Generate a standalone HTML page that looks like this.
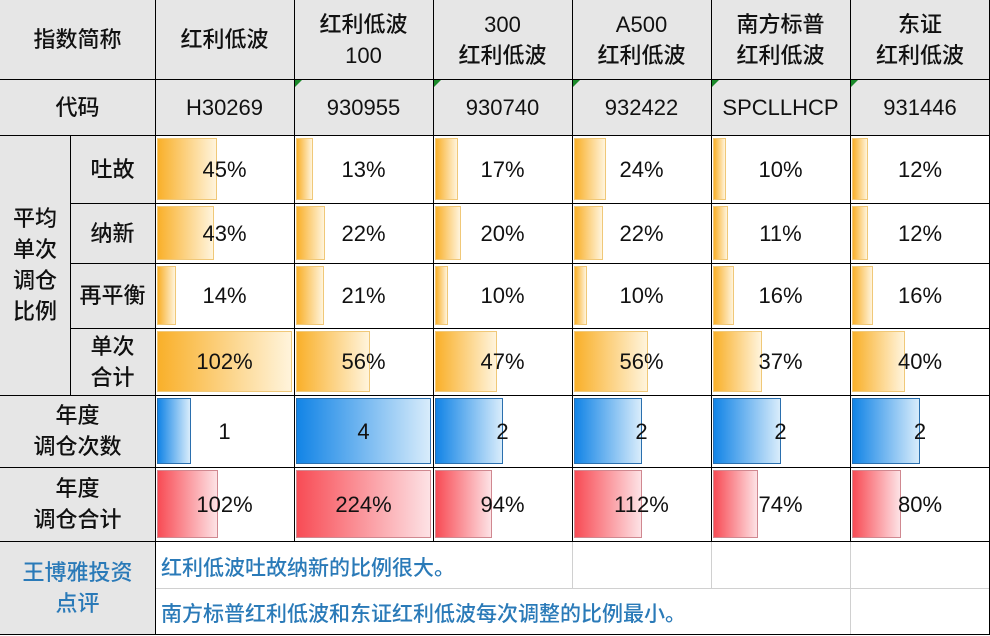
<!DOCTYPE html>
<html><head><meta charset="utf-8">
<style>
body{margin:0;width:990px;height:635px;background:#fff;font-family:"Liberation Sans","Noto Sans CJK SC",sans-serif;overflow:hidden}
#t{position:relative;width:990px;height:635px}
.c{position:absolute;box-sizing:border-box;display:flex;align-items:center;justify-content:center;text-align:center;color:#111;font-size:22px;line-height:31px;font-weight:500}
.h{background:#e6e6e6}
.bar{position:absolute;box-sizing:border-box}
.v{position:relative;z-index:2}
.ln{position:absolute;background:#000}
.lg{position:absolute;background:#d0d0d0}
.tri{position:absolute;width:0;height:0;border-top:7px solid #1a8a2a;border-right:7px solid transparent}
.cm{position:absolute;color:#2a7ab8;font-size:21px;font-weight:500;display:flex;align-items:center}
</style></head><body>
<div id="t"></div>
<script>
const names=["红利低波","红利低波<br>100","300<br>红利低波","A500<br>红利低波","南方标普<br>红利低波","东证<br>红利低波"];
const codes=["H30269","930955","930740","932422","SPCLLHCP","931446"];
const outVals=[45,13,17,24,10,12];
const inVals=[43,22,20,22,11,12];
const rebVals=[14,21,10,10,16,16];
const sumVals=[102,56,47,56,37,40];
const countVals=[1,4,2,2,2,2];
const annualVals=[102,224,94,112,74,80];
const xs=[155,294,433,572,711,850,990];
const ys=[0,79,135,203,263,328,395,467,541,588,635];
const t=document.getElementById('t');
function cell(x,y,w,h,html,cls,name){const d=document.createElement('div');d.className='c '+(cls||'');d.style.left=x+'px';d.style.top=y+'px';d.style.width=w+'px';d.style.height=h+'px';d.innerHTML=html;


t.appendChild(d);return d;}
cell(0,0,155,79,'指数简称','h','header-index-name');
cell(0,79,155,56,'代码','h','header-code');
cell(0,135,70,260,'平均<br>单次<br>调仓<br>比例','h','header-avg-single');
const sub=['吐故','纳新','再平衡','单次<br>合计'];
for(let i=0;i<4;i++)cell(70,ys[i+2],85,ys[i+3]-ys[i+2],sub[i],'h','header-sub-'+i);
cell(0,395,155,72,'年度<br>调仓次数','h','header-annual-count');
cell(0,467,155,74,'年度<br>调仓合计','h','header-annual-total');
const cmh=cell(0,541,155,94,'王博雅投资<br>点评','h','header-comment');cmh.style.color='#2a7ab8';
for(let j=0;j<6;j++){
 cell(xs[j],0,xs[j+1]-xs[j],79,names[j],'h','index-name-'+j);
 cell(xs[j],79,xs[j+1]-xs[j],56,codes[j],'h','index-code-'+j);
 if(j>=1){const tr=document.createElement('div');tr.className='tri';tr.style.left=(xs[j]+1)+'px';tr.style.top='80px';
 
 
 t.appendChild(tr);}
}
const orange={g:'linear-gradient(90deg,#f9b02a,#fff4dc)',b:'#f0c878'};
const blue={g:'linear-gradient(90deg,#1284e6,#d8ecfb)',b:'#2a6fae'};
const red={g:'linear-gradient(90deg,#f84c55,#fde2e5)',b:'#d08890'};
function barRow(vals,max,ri,col,fmt,name){
 const y0=ys[ri],h=ys[ri+1]-ys[ri];
 for(let j=0;j<6;j++){
  const x0=xs[j],w=xs[j+1]-xs[j];
  const d=cell(x0,y0,w,h,'<span class="v">'+fmt(vals[j])+'</span>','',name+'-'+j);
  const b=document.createElement('div');b.className='bar';
  
  
  b.style.left='2px';b.style.top='3px';b.style.height=(h-6)+'px';
  b.style.width=(vals[j]/max*(w-4))+'px';b.style.background=col.g;b.style.border='1px solid '+col.b;
  d.appendChild(b);
 }
}
const pct=v=>v+'%';
barRow(outVals,102,2,orange,pct,'out-ratio');
barRow(inVals,102,3,orange,pct,'in-ratio');
barRow(rebVals,102,4,orange,pct,'rebalance-ratio');
barRow(sumVals,102,5,orange,pct,'single-total');
barRow(countVals,4,6,blue,v=>v,'annual-count');
barRow(annualVals,224,7,red,pct,'annual-total');
function lg(x,y,w,h){const l=document.createElement('div');l.className='lg';l.style.left=x+'px';l.style.top=y+'px';l.style.width=w+'px';l.style.height=h+'px';


t.appendChild(l);}
lg(155,588,835,1);lg(572,541,1,47);lg(711,541,1,47);lg(850,541,1,94);
function cm(y,txt,n){const d=document.createElement('div');d.className='cm';d.style.left='161px';d.style.top=y+'px';d.style.height='47px';d.textContent=txt;


t.appendChild(d);}
cm(543,'红利低波吐故纳新的比例很大。','comment-1');
cm(589,'南方标普红利低波和东证红利低波每次调整的比例最小。','comment-2');
function ln(x,y,w,h){const l=document.createElement('div');l.className='ln';l.style.left=x+'px';l.style.top=y+'px';l.style.width=w+'px';l.style.height=h+'px';


t.appendChild(l);}
[79,135,395,467,541].forEach(y=>ln(0,y,990,1));
[203,263,328].forEach(y=>ln(70,y,920,1));
ln(0,634,990,1);
ln(155,0,1,635);ln(70,135,1,260);ln(989,0,1,635);
for(let j=1;j<6;j++)ln(xs[j],0,1,541);
</script>
</body></html>
